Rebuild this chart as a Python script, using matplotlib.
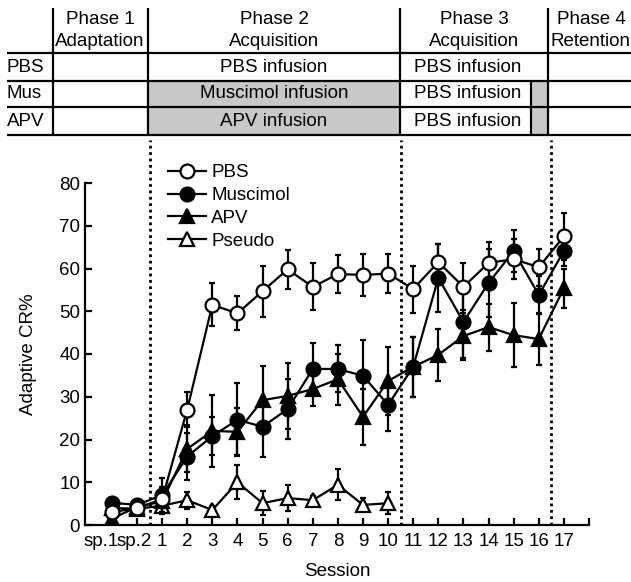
import matplotlib
matplotlib.use('Agg')
import matplotlib.pyplot as plt
import matplotlib.transforms as mtransforms
from matplotlib.patches import Rectangle
from matplotlib.lines import Line2D
import numpy as np

plt.rcParams['font.family'] = ['Liberation Sans', 'DejaVu Sans']

# sessions: two spontaneous blocks, then 1..17
sessions = ['sp.1', 'sp.2'] + [str(i) for i in range(1, 18)]

pbs = [3, 4, 6, 27, 51.5, 49.5, 54.7, 59.8, 55.7, 58.7, 58.5, 58.8,
       55.2, 61.5, 55.7, 61.3, 62.2, 60.3, 67.5]
pbs_err = [1, 1, 3, 4, 5, 4, 6, 4.5, 5.5, 4.5, 5, 4.5,
           5.5, 4.3, 5.5, 5, 4.7, 4.3, 5.5]

mus = [5.2, 4.7, 7, 16, 20.8, 24.6, 23, 27.1, 36.5, 36.5, 34.9, 28.1,
       37, 57.8, 47.5, 56.6, 64.1, 53.8, 64.1]
mus_err = [0.8, 0.8, 4, 5.5, 4.5, 8.5, 7, 7, 6, 5.5, 8.4, 6,
           7, 8, 8.5, 8, 5, 4.5, 3.5]

apv = [1.5, 4.2, 5.5, 17.8, 22, 21.8, 29.2, 30.2, 31.8, 34.1, 25.3, 33.7,
       37, 39.8, 44.2, 46.3, 44.4, 43.5, 55.4]
apv_err = [0.8, 0.8, 3, 5.5, 8.5, 5.5, 8, 7.7, 4, 6, 6.6, 8,
           7, 6, 5.5, 5.5, 7.5, 6, 4.6]

pseudo = [4, 3.8, 4.5, 5.8, 3.5, 10, 5.1, 6.3, 5.8, 9.4, 4.7, 5.1]
pseudo_err = [0.8, 0.8, 1, 2, 1, 4, 2.8, 3, 1, 3.6, 1.5, 2.6]

# phase boundaries sit between sessions sp.2|1, 10|11, 16|17
boundaries = [1.5, 11.5, 17.5]

W, H = 631, 582
fig = plt.figure(figsize=(W / 100, H / 100), dpi=100)

# ---- table on top, drawn in pixel coords
tab = fig.add_axes([0, 0, 1, 1])
tab.set_xlim(0, W)
tab.set_ylim(H, 0)
tab.axis('off')

gray = '#c8c8c8'
tab.add_patch(Rectangle((148, 81), 252, 54, facecolor=gray, edgecolor='none'))
tab.add_patch(Rectangle((531, 81), 17, 54, facecolor=gray, edgecolor='none'))
for yy in [53, 81, 107, 135]:
    tab.plot([7, W], [yy, yy], color='black', lw=1.6, solid_capstyle='butt')
for xx in [53, 148, 400, 548]:
    tab.plot([xx, xx], [8, 135], color='black', lw=1.6, solid_capstyle='butt')
tab.plot([531, 531], [81, 135], color='black', lw=1.6, solid_capstyle='butt')

fs = 13.5
heads = [(100, 'Phase 1', 'Adaptation'), (274, 'Phase 2', 'Acquisition'),
         (474, 'Phase 3', 'Acquisition'), (591, 'Phase 4', 'Retention')]
for xc, a, b in heads:
    tab.text(xc, 19, a, ha='center', va='center', fontsize=fs)
    tab.text(xc, 41, b, ha='center', va='center', fontsize=fs)
for yc, lab in [(67, 'PBS'), (94, 'Mus'), (121, 'APV')]:
    tab.text(7, yc, lab, ha='left', va='center', fontsize=fs)
tab.text(274, 67, 'PBS infusion', ha='center', va='center', fontsize=fs)
tab.text(274, 94, 'Muscimol infusion', ha='center', va='center', fontsize=fs)
tab.text(274, 121, 'APV infusion', ha='center', va='center', fontsize=fs)
for yc in [67, 94, 121]:
    tab.text(468, yc, 'PBS infusion', ha='center', va='center', fontsize=fs)

# ---- main chart
ax = fig.add_axes([85 / W, 1 - 525 / H, 504 / W, 342 / H])
x = np.arange(len(sessions))

ms = 10
kw = dict(color='black', lw=1.6, ms=ms, mew=1.6, elinewidth=1.6,
          capsize=2.5, capthick=1.6)
ax.errorbar(np.arange(len(pseudo)), pseudo, yerr=pseudo_err, marker='^',
            mfc='white', zorder=3, **kw)
ax.errorbar(x, apv, yerr=apv_err, marker='^', mfc='black', zorder=4, **kw)
ax.errorbar(x, mus, yerr=mus_err, marker='o', mfc='black', zorder=5, **kw)
ax.errorbar(x, pbs, yerr=pbs_err, marker='o', mfc='white', zorder=6, **kw)

for b in boundaries:
    ax.axvline(b, ymin=0, ymax=90 / 80, color='black', lw=2,
               ls=(0, (1, 1.3)), clip_on=False, zorder=2)

ax.set_xlim(-1.07, 19)
ax.set_ylim(0, 80)
ax.set_xticks(list(x) + [19])
ax.set_xticklabels(sessions + [''])
ax.set_yticks(range(0, 81, 10))
ax.tick_params(direction='in', length=5, width=1.6, labelsize=13.5)
ax.tick_params(axis='x', pad=6)
# the two 'sp.' labels sit a little left of their ticks
tl = ax.get_xticklabels()
for lab, dx in [(tl[0], -11), (tl[1], -3)]:
    lab.set_transform(lab.get_transform() +
                      mtransforms.ScaledTranslation(dx / 100, 0, fig.dpi_scale_trans))
for s in ['top', 'right']:
    ax.spines[s].set_visible(False)
for s in ['left', 'bottom']:
    ax.spines[s].set_linewidth(1.6)
ax.set_xlabel('Session', fontsize=13.5, labelpad=9)
ax.set_ylabel('Adaptive CR%', fontsize=13.5, labelpad=16)

handles = [
    Line2D([], [], color='black', lw=1.6, marker='o', ms=ms, mew=1.6, mfc='white'),
    Line2D([], [], color='black', lw=1.6, marker='o', ms=ms, mew=1.6, mfc='black'),
    Line2D([], [], color='black', lw=1.6, marker='^', ms=ms, mew=1.6, mfc='black'),
    Line2D([], [], color='black', lw=1.6, marker='^', ms=ms, mew=1.6, mfc='white'),
]
labels = ['PBS', 'Muscimol', 'APV', 'Pseudo']
ax.legend(handles, labels, loc='upper left',
          bbox_to_anchor=(0.165, 1.055), frameon=False, fontsize=13.5,
          handlelength=2.0, handletextpad=0.3, labelspacing=0.3,
          borderpad=0, borderaxespad=0)

fig.savefig('out.png', dpi=100)
